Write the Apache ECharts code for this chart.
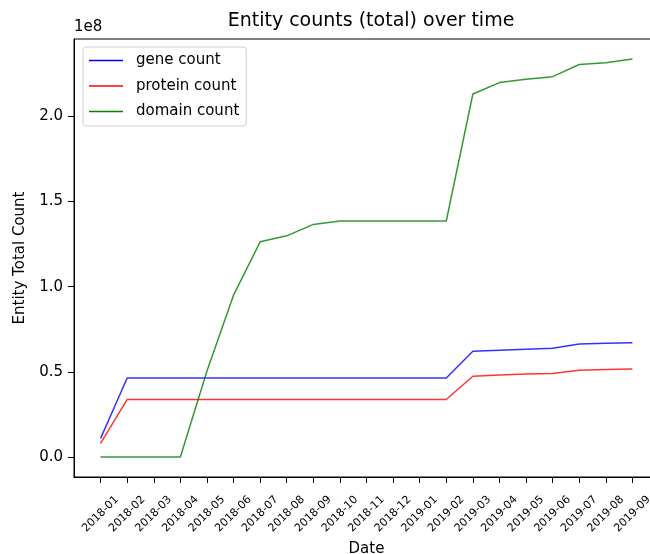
<!DOCTYPE html>
<html>
<head>
<meta charset="utf-8">
<script src="https://cdn.jsdelivr.net/npm/echarts@6/dist/echarts.min.js"></script>
<style>
html,body{margin:0;padding:0;background:#fff;overflow:hidden;}
#chart{width:650px;height:554px;}
</style>
</head>
<body>
<div id="chart"></div>
<script>
const dates = ['2018-01','2018-02','2018-03','2018-04','2018-05','2018-06','2018-07','2018-08','2018-09','2018-10','2018-11','2018-12','2019-01','2019-02','2019-03','2019-04','2019-05','2019-06','2019-07','2019-08','2019-09'];
const geneCount = [0.11e8,0.464e8,0.464e8,0.464e8,0.464e8,0.464e8,0.464e8,0.464e8,0.464e8,0.464e8,0.464e8,0.464e8,0.464e8,0.464e8,0.621e8,0.627e8,0.633e8,0.638e8,0.664e8,0.668e8,0.671e8];
const proteinCount = [0.08e8,0.338e8,0.338e8,0.338e8,0.338e8,0.338e8,0.338e8,0.338e8,0.338e8,0.338e8,0.338e8,0.338e8,0.338e8,0.338e8,0.474e8,0.482e8,0.487e8,0.491e8,0.510e8,0.514e8,0.517e8];
const domainCount = [0,0,0,0,0.505e8,0.95e8,1.263e8,1.298e8,1.365e8,1.385e8,1.385e8,1.385e8,1.385e8,1.385e8,2.13e8,2.197e8,2.216e8,2.232e8,2.303e8,2.314e8,2.336e8];
const yTicks = [0,0.5e8,1.0e8,1.5e8,2.0e8];
const seriesNames = ['gene count','protein count','domain count'];

const idx = dates.map((d,i)=>i);
const toPairs = arr => arr.map((v,i)=>[i,v]);
const font = 'DejaVu Sans';

const chart = echarts.init(document.getElementById('chart'), null, {renderer:'canvas'});
chart.setOption({
  animation:false,
  backgroundColor:'#fff',
  title:{
    text:'Entity counts (total) over time',
    left:366, top:7, textAlign:'center',
    textStyle:{fontFamily:font,fontSize:19,fontWeight:'normal',color:'#000'}
  },
  graphic:[{
    type:'text', left:74, top:20,
    style:{text:'1e8', font:'15px "DejaVu Sans"', fill:'#000'}
  }],
  legend:{
    orient:'vertical', left:83, top:47,
    padding:[6,7,7,6],
    itemGap:10.5, itemWidth:34, itemHeight:14,
    backgroundColor:'#fff', borderColor:'#d0d0d0', borderWidth:1, borderRadius:3,
    textStyle:{fontFamily:font,fontSize:15,color:'#000',padding:[0,0,0,8]},
    data:seriesNames.map(n=>({name:n,icon:'path://M0,0L34,0L34,1.5L0,1.5Z'}))
  },
  grid:{left:74, right:-9, top:39, bottom:77, show:true, borderColor:'#000', borderWidth:1, containLabel:false, outerBoundsMode:'none'},
  xAxis:{
    type:'value', min:-1, max:21, interval:1,
    name:'Date', nameLocation:'middle', nameGap:62,
    nameTextStyle:{fontFamily:font,fontSize:15,color:'#000'},
    splitLine:{show:false},
    axisLine:{show:true,onZero:false,lineStyle:{color:'#000',width:1}},
    axisTick:{show:true,length:6,lineStyle:{color:'#000'},customValues:idx},
    axisLabel:{rotate:45,fontFamily:font,fontSize:11,color:'#000',margin:37,
      align:'center', verticalAlign:'middle',
      customValues:idx, formatter:v=>dates[Math.round(v)]||''}
  },
  yAxis:{
    type:'value', min:-0.1168e8, max:2.4528e8,
    name:'Entity Total Count', nameLocation:'middle', nameGap:46,
    nameTextStyle:{fontFamily:font,fontSize:15,color:'#000'},
    splitLine:{show:false},
    axisLine:{show:true,onZero:false,lineStyle:{color:'#000',width:1}},
    axisTick:{show:true,length:6,lineStyle:{color:'#000'},customValues:yTicks},
    axisLabel:{fontFamily:font,fontSize:15,color:'#000',margin:11,
      customValues:yTicks, formatter:v=>(v/1e8).toFixed(1)}
  },
  series:[
    {name:seriesNames[0],type:'line',data:toPairs(geneCount),symbol:'none',
     lineStyle:{color:'#0000ff',width:1.5,opacity:0.8},itemStyle:{color:'#0000ff'}},
    {name:seriesNames[1],type:'line',data:toPairs(proteinCount),symbol:'none',
     lineStyle:{color:'#ff0000',width:1.5,opacity:0.8},itemStyle:{color:'#ff0000'}},
    {name:seriesNames[2],type:'line',data:toPairs(domainCount),symbol:'none',
     lineStyle:{color:'#008000',width:1.5,opacity:0.8},itemStyle:{color:'#008000'}}
  ]
});
</script>
</body>
</html>
